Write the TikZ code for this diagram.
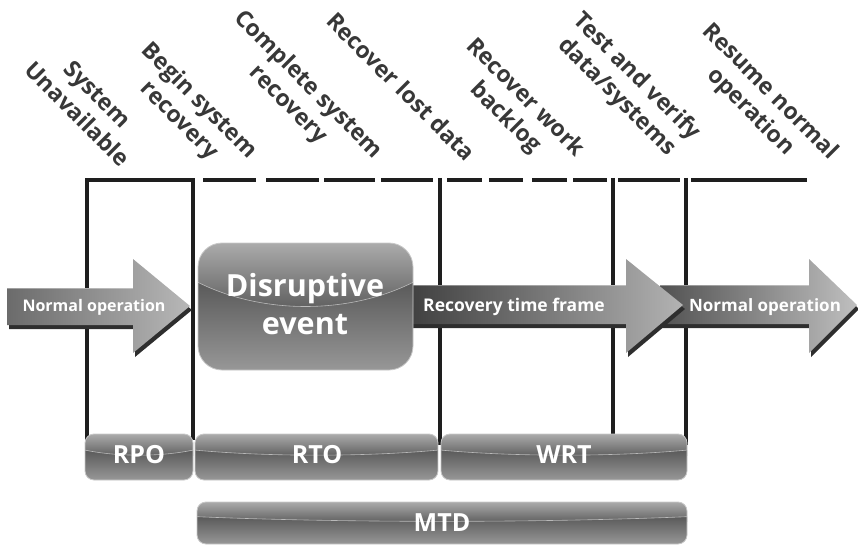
\documentclass[tikz,border=0pt]{standalone}
\usepackage{fontspec}
\setmainfont{Open Sans}
\definecolor{labelgrey}{HTML}{383838}
\definecolor{linecol}{HTML}{1E1E1E}
\definecolor{shadowcol}{HTML}{2E2E2E}
\definecolor{glassTop}{HTML}{ABABAB}
\definecolor{glassDark}{HTML}{626262}
\definecolor{glassDarkB}{HTML}{5A5A5A}
\definecolor{glassBot}{HTML}{979797}
\definecolor{glassEdge}{HTML}{C8C8C8}
\newcommand\arrowshape[8]{(#1,#3) -- (#2,#3) -- (#2,#5) -- (#7,#8) -- (#2,#6) -- (#2,#4) -- (#1,#4) -- cycle}
% x1 y1 x2 y2 radius edgefrac dipfrac
\newcommand\glassbar[7]{%
  \pgfmathsetmacro\gbh{#4-#2}%
  \pgfmathsetmacro\gbe{#2+#6*\gbh}%
  \pgfmathsetmacro\gbm{#2+#6*\gbh+#7*\gbh}%
  \pgfmathsetmacro\gbc{#2+#6*\gbh+#7*\gbh*4/3}%
  \pgfmathsetmacro\gbxa{#1+(#3-#1)*0.3}%
  \pgfmathsetmacro\gbxb{#1+(#3-#1)*0.7}%
  \begin{scope}
    \clip[rounded corners=#5] (#1,#2) rectangle (#3,#4);
    \shade[top color=glassTop, bottom color=glassDark] (#1,#2) rectangle (#3,\gbm);
    \shade[top color=glassDarkB, bottom color=glassBot] (#1,\gbe) .. controls (\gbxa,\gbc) and (\gbxb,\gbc) .. (#3,\gbe) -- (#3,#4) -- (#1,#4) -- cycle;
  \end{scope}
  \draw[glassline] (#1,\gbe) .. controls (\gbxa,\gbc) and (\gbxb,\gbc) .. (#3,\gbe);
  \draw[glassedge, rounded corners=#5] (#1,#2) rectangle (#3,#4);
}
\tikzset{
  toplabel/.style={font=\bfseries\fontsize{23}{28}\selectfont, text=labelgrey, align=center, rotate=-45, inner sep=0pt},
  frameline/.style={draw=linecol, line width=4pt},
  arrowtext/.style={font=\bfseries\fontsize{17}{20}\selectfont, text=white, inner sep=0pt},
  bartext/.style={font=\bfseries\fontsize{25}{28}\selectfont, text=white, inner sep=0pt},
  disrtext/.style={font=\bfseries\fontsize{30.5}{38}\selectfont, text=white, align=center, inner sep=0pt},
  glassline/.style={draw=white, draw opacity=0.55, line width=0.6pt},
  glassedge/.style={draw=glassEdge, line width=0.8pt},
  topedge/.style={draw=white, draw opacity=0.35, line width=0.8pt},
}
\begin{document}
\begin{tikzpicture}[x=1pt,y=-1pt]
\useasboundingbox (0,0) rectangle (858,545);

% ---------- top labels ----------
\node[toplabel] (l1) at (87.5,104) {System\\Unavailable};
\node[toplabel] (l2) at (189,111) {Begin system\\recovery};
\node[toplabel] (l3) at (298,95) {Complete system\\recovery};
\node[toplabel] (l4) at (401.5,86.5) {Recover lost data};
\node[toplabel] (l5) at (515,108) {Recover work\\backlog};
\node[toplabel] (l6) at (626.5,87) {Test and verify\\data/systems};
\node[toplabel] (l7) at (760,102) {Resume normal\\operation};

% ---------- frame lines ----------
\draw[frameline] (87,440) -- (87,180) -- (193,180) -- (193,440);
\foreach \a/\b in {203/256,266/319,324/375,381/433,447/482,489/523,532/567,573/607,618/680,691/807}
  \draw[frameline] (\a,180) -- (\b,180);
\draw[frameline] (440,178) -- (440,445);
\draw[frameline] (613,178) -- (613,445);
\draw[frameline] (686,178) -- (686,445);

% ---------- right arrow: Normal operation ----------
\begin{scope}[shift={(2,4)}]
  \fill[shadowcol] \arrowshape{660}{809}{285}{324}{259}{353}{857}{305};
\end{scope}
\shade[left color=black!68, right color=black!25] \arrowshape{660}{809}{285}{324}{259}{353}{857}{305};
\draw[topedge] (660,285) -- (809,285);
\node[arrowtext] (no2) at (765,307) {Normal operation};

% ---------- recovery arrow ----------
\begin{scope}[shift={(2,4)}]
  \fill[shadowcol] \arrowshape{403}{626}{285}{324}{259}{353}{683}{305};
\end{scope}
\shade[left color=black!76, right color=black!30] \arrowshape{403}{626}{285}{324}{259}{353}{683}{305};
\draw[topedge] (403,285) -- (626,285);
\node[arrowtext, font=\bfseries\fontsize{17.5}{20}\selectfont] (rtf) at (514,307) {Recovery time frame};

% ---------- left arrow ----------
\begin{scope}[shift={(2,4)}]
  \fill[shadowcol] \arrowshape{7}{133}{288}{325}{259}{353}{190}{306};
\end{scope}
\shade[left color=black!58, right color=black!28] \arrowshape{7}{133}{288}{325}{259}{353}{190}{306};
\draw[topedge] (7,288) -- (133,288);
\node[arrowtext, font=\bfseries\fontsize{16}{20}\selectfont] (no1) at (94,307) {Normal operation};

% ---------- disruptive event ----------
\glassbar{198}{243}{413}{370}{24}{0.31}{0.19}
\node[disrtext] (disr) at (305,304) {Disruptive\\event};

% ---------- bars ----------
\glassbar{85}{434}{193}{480}{9}{0.35}{0.11}
\node[bartext] (rpo) at (139,455) {RPO};
\glassbar{195}{434}{438}{480}{9}{0.35}{0.11}
\node[bartext] (rto) at (317,455) {RTO};
\glassbar{441}{434}{687}{480}{9}{0.35}{0.11}
\node[bartext] (wrt) at (564,455) {WRT};
\glassbar{197}{502}{687}{544}{9}{0.35}{0.11}
\node[bartext] (mtd) at (442,523) {MTD};
\end{tikzpicture}
\end{document}
